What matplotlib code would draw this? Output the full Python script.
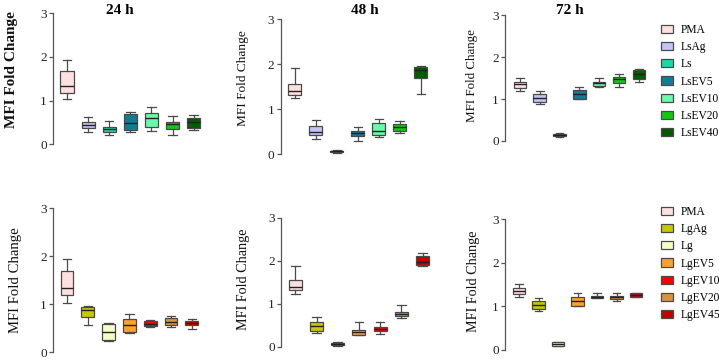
import matplotlib
matplotlib.use("Agg")
import matplotlib.pyplot as plt
from matplotlib.patches import Patch

W, H = 719, 360

ls_groups = ["PMA", "LsAg", "Ls", "LsEV5", "LsEV10", "LsEV20", "LsEV40"]
lg_groups = ["PMA", "LgAg", "Lg", "LgEV5", "LgEV10", "LgEV20", "LgEV45"]
ls_colors = ["#FFE0E0", "#C4C4F4", "#1ED8A4", "#137C92", "#6CFAA8", "#10C810", "#005C00"]
lg_colors = ["#FFE0E0", "#C8C800", "#F4FFC8", "#FFA030", "#FF0000", "#D8943E", "#C40000"]
titles = ["24 h", "48 h", "72 h"]

# five-number summaries: whisker low, q1, median, q3, whisker high
ls_24_lo  = [1.03, 0.27, 0.22, 0.29, 0.30, 0.22, 0.33]
ls_24_q1  = [1.17, 0.38, 0.27, 0.32, 0.39, 0.35, 0.37]
ls_24_med = [1.34, 0.44, 0.34, 0.48, 0.60, 0.46, 0.52]
ls_24_q3  = [1.68, 0.50, 0.40, 0.69, 0.71, 0.51, 0.61]
ls_24_hi  = [1.93, 0.62, 0.54, 0.74, 0.85, 0.64, 0.67]

ls_48_lo  = [1.24, 0.33, 0.03, 0.30, 0.38, 0.48, 1.34]
ls_48_q1  = [1.31, 0.42, 0.06, 0.41, 0.43, 0.51, 1.69]
ls_48_med = [1.41, 0.50, 0.07, 0.48, 0.52, 0.60, 1.87]
ls_48_q3  = [1.55, 0.63, 0.08, 0.52, 0.69, 0.68, 1.93]
ls_48_hi  = [1.91, 0.76, 0.10, 0.60, 0.79, 0.73, 1.96]

ls_72_lo  = [1.20, 0.89, 0.09, 0.99, 1.29, 1.29, 1.40]
ls_72_q1  = [1.26, 0.92, 0.11, 1.00, 1.30, 1.37, 1.47]
ls_72_med = [1.35, 1.03, 0.14, 1.12, 1.37, 1.48, 1.60]
ls_72_q3  = [1.41, 1.12, 0.17, 1.21, 1.41, 1.52, 1.68]
ls_72_hi  = [1.51, 1.20, 0.19, 1.29, 1.49, 1.59, 1.72]

lg_24_lo  = [1.03, 0.57, 0.23, 0.40, 0.52, 0.52, 0.49]
lg_24_q1  = [1.19, 0.73, 0.26, 0.42, 0.55, 0.57, 0.57]
lg_24_med = [1.33, 0.88, 0.43, 0.57, 0.60, 0.64, 0.61]
lg_24_q3  = [1.69, 0.95, 0.60, 0.70, 0.65, 0.71, 0.65]
lg_24_hi  = [1.94, 0.96, 0.62, 0.80, 0.68, 0.75, 0.70]

lg_48_lo  = [1.22, 0.31, 0.02, 0.27, 0.29, 0.67, 1.87]
lg_48_q1  = [1.32, 0.37, 0.05, 0.28, 0.37, 0.71, 1.89]
lg_48_med = [1.40, 0.47, 0.07, 0.34, 0.41, 0.75, 1.97]
lg_48_q3  = [1.54, 0.57, 0.08, 0.40, 0.45, 0.80, 2.12]
lg_48_hi  = [1.88, 0.68, 0.12, 0.57, 0.57, 0.96, 2.19]

lg_72_lo  = [1.21, 0.89, 0.09, 1.00, 1.19, 1.12, 1.21]
lg_72_q1  = [1.28, 0.94, 0.10, 1.01, 1.19, 1.18, 1.22]
lg_72_med = [1.36, 1.03, 0.14, 1.12, 1.22, 1.22, 1.26]
lg_72_q3  = [1.43, 1.12, 0.19, 1.22, 1.24, 1.25, 1.30]
lg_72_hi  = [1.51, 1.20, 0.19, 1.30, 1.30, 1.30, 1.31]

panels = [
    # (stats arrays, labels, colors, geometry: axis_x, y3_px, y0_px, first_center_px, spacing_px)
    ((ls_24_lo, ls_24_q1, ls_24_med, ls_24_q3, ls_24_hi), ls_groups, ls_colors, (53, 13, 144.3, 67, 21.1)),
    ((ls_48_lo, ls_48_q1, ls_48_med, ls_48_q3, ls_48_hi), ls_groups, ls_colors, (280.5, 19, 154.3, 294.7, 21.0)),
    ((ls_72_lo, ls_72_q1, ls_72_med, ls_72_q3, ls_72_hi), ls_groups, ls_colors, (505, 15, 141, 519.7, 19.9)),
    ((lg_24_lo, lg_24_q1, lg_24_med, lg_24_q3, lg_24_hi), lg_groups, lg_colors, (53, 208.3, 352.3, 67, 20.8)),
    ((lg_48_lo, lg_48_q1, lg_48_med, lg_48_q3, lg_48_hi), lg_groups, lg_colors, (281, 217.7, 346.7, 295.3, 21.2)),
    ((lg_72_lo, lg_72_q1, lg_72_med, lg_72_q3, lg_72_hi), lg_groups, lg_colors, (505, 219.3, 350, 519, 19.5)),
]

ylabel_pos = [(12, 70), (243, 78), (472, 75), (16, 280), (243, 279), (473, 281)]
ylabel_size = [11, 9.6, 9.4, 10.6, 10.2, 10.2]
title_pos = [(120, 10), (365, 10), (570, 10)]

plt.rcParams['font.family'] = ['Liberation Serif', 'DejaVu Serif']

fig = plt.figure(figsize=(W / 100, H / 100), dpi=100)

for i, (stats, labels, colors, geo) in enumerate(panels):
    ax_x, y3, y0, c1, s = geo
    x0 = 1 - (c1 - ax_x) / s
    x1 = 7.6
    width_px = (x1 - x0) * s
    ax = fig.add_axes([ax_x / W, 1 - y0 / H, width_px / W, (y0 - y3) / H])
    lo, q1, med, q3, hi = stats
    bxp_stats = [dict(whislo=lo[k], q1=q1[k], med=med[k], q3=q3[k], whishi=hi[k], fliers=[], label=labels[k])
                 for k in range(len(labels))]
    bp = ax.bxp(bxp_stats, positions=range(1, 8), widths=0.62, patch_artist=True, showfliers=False,
                boxprops=dict(edgecolor="#4a4a4a", linewidth=0.9),
                medianprops=dict(color="#222222", linewidth=1.0),
                whiskerprops=dict(color="#4a4a4a", linewidth=0.9),
                capprops=dict(color="#4a4a4a", linewidth=0.9),
                capwidths=0.4)
    for patch, c in zip(bp['boxes'], colors):
        patch.set_facecolor(c)
    ax.set_xlim(x0, x1)
    ax.set_ylim(0, 3)
    ax.set_yticks([0, 1, 2, 3])
    ax.set_xticks([])
    for sp in ['top', 'right', 'bottom']:
        ax.spines[sp].set_visible(False)
    ax.spines['left'].set_color("#555555")
    ax.spines['left'].set_linewidth(0.9)
    ax.tick_params(axis='y', length=3, width=0.9, color="#555555", labelsize=9.5, pad=1.5, labelcolor="#222222")
    for art in ax.get_children():
        try:
            art.set_clip_on(False)
        except Exception:
            pass

    lx, ly = ylabel_pos[i]
    fig.text(lx / W, 1 - ly / H, "MFI Fold Change", rotation=90, ha='center', va='center',
             fontsize=ylabel_size[i], fontweight='bold' if i == 0 else 'normal', color="#111111")

for (tx, ty), t in zip(title_pos, titles):
    fig.text(tx / W, 1 - ty / H, t, ha='center', va='center', fontsize=11, fontweight='bold')

for groups, colors, top_px in [(ls_groups, ls_colors, 24), (lg_groups, lg_colors, 206)]:
    handles = [Patch(facecolor=c, edgecolor="#4a4a4a", linewidth=0.9) for c in colors]
    fig.legend(handles, groups, loc='upper left', bbox_to_anchor=(661 / W, 1 - top_px / H),
               frameon=False, fontsize=8.3, handlelength=1.05, handleheight=0.7,
               labelspacing=0.45, handletextpad=0.65, borderaxespad=0, borderpad=0)

fig.savefig("out.png", dpi=100)
